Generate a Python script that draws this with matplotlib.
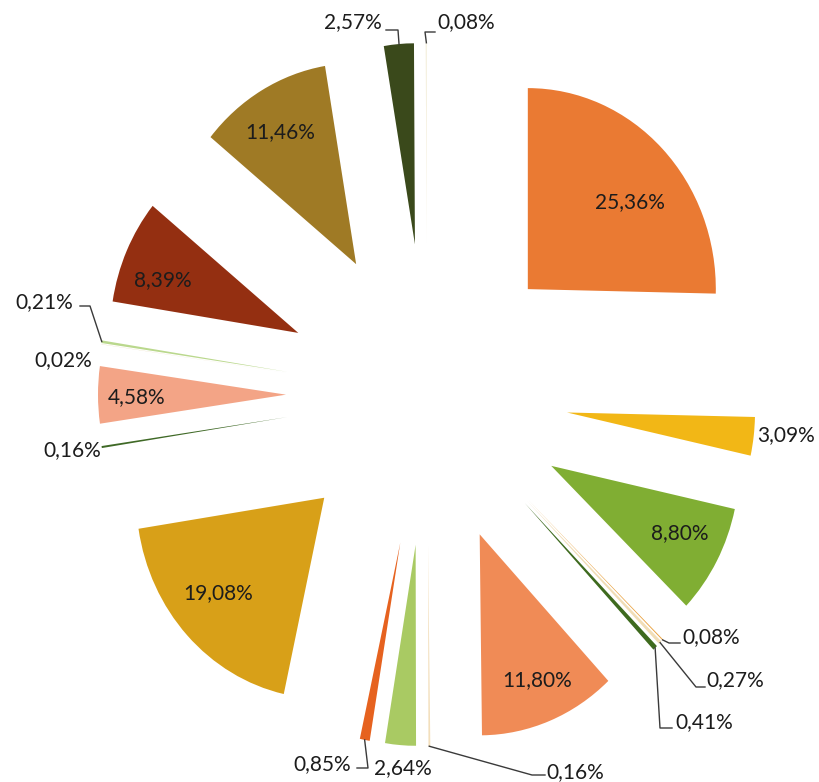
import matplotlib.pyplot as plt
import numpy as np

plt.rcParams['font.family'] = ['Lato', 'DejaVu Sans']

# udzialy procentowe, zgodnie z ruchem wskazowek zegara od gory
values = [25.36, 3.09, 8.80, 0.08, 0.27, 0.41, 11.80, 0.16, 2.64, 0.85,
          19.08, 0.16, 4.58, 0.02, 0.21, 8.39, 11.46, 2.57, 0.08]
colors = ['#EA7A33', '#F2B716', '#80AE33', '#E9A03C', '#F1DDB6', '#3E6A1E',
          '#F08B56', '#F3DFBC', '#A9CA63', '#E6621F', '#D8A018', '#3F6926',
          '#F3A486', '#E8D9B0', '#BAD88D', '#942F11', '#9F7A25', '#3A491B',
          '#F1EAD2']
inside = [0, 2, 6, 10, 12, 15, 16]

# polozenie etykiet (piksele) i punkty zalaman linii odniesienia
outside = {
    1: (757, 435, 'left', []),
    3: (682, 637, 'left', [(669, 643), (680, 643)]),
    4: (706, 680, 'left', [(696, 687), (705, 687)]),
    5: (675, 722, 'left', [(660, 728), (672, 728)]),
    7: (546, 772, 'left', [(532, 775), (545, 775)]),
    8: (403, 768, 'center', []),
    9: (351, 764, 'right', [(368, 768), (357, 768)]),
    11: (101, 450, 'right', []),
    13: (92, 360, 'right', []),
    14: (73, 302, 'right', [(90, 306), (80, 306)]),
    17: (382, 22, 'right', [(398, 30), (386, 30)]),
    18: (437, 22, 'left', [(425, 32), (435, 32)]),
}
inside_pos = {0: (630, 202), 2: (680, 533), 6: (537, 680), 10: (218, 593),
              12: (137, 397), 15: (163, 280), 16: (280, 132)}

W, H = 820, 782
CX, CY, RX, RY = 427, 394.5, 188, 201
EXPL = 0.75


def px(x, y):
    return (x - CX) / RX, (CY - y) / RY


fig = plt.figure(figsize=(W / 100, H / 100), dpi=100)
ax = fig.add_axes([0, 0, 1, 1])

ax.pie(values, colors=colors, explode=[EXPL] * len(values), startangle=90,
       counterclock=False, wedgeprops=dict(linewidth=0))
ax.set_aspect('auto')
ax.set_xlim(px(0, 0)[0], px(W, 0)[0])
ax.set_ylim(px(0, H)[1], px(0, 0)[1])
ax.axis('off')

txt = lambda v: f'{v:.2f}%'.replace('.', ',')

cum = np.concatenate([[0], np.cumsum(values)]) / 100.0
for i, v in enumerate(values):
    if i in inside:
        x, y = px(*inside_pos[i])
        ax.text(x, y, txt(v), ha='center', va='center', fontsize=15,
                color='#1c1c1c')
        continue
    tx, ty, ha, bends = outside[i]
    x, y = px(tx, ty)
    ax.text(x, y, txt(v), ha=ha, va='center', fontsize=15, color='#1c1c1c')
    if bends:
        mid = np.deg2rad(90 - 360 * (cum[i] + cum[i + 1]) / 2)
        wx, wy = (EXPL + 1) * np.cos(mid), (EXPL + 1) * np.sin(mid)
        pts = [(wx, wy)] + [px(*b) for b in bends]
        ax.plot([p[0] for p in pts], [p[1] for p in pts], color='#3a3a3a',
                linewidth=1)

fig.savefig('out.png', dpi=100, facecolor='white')
